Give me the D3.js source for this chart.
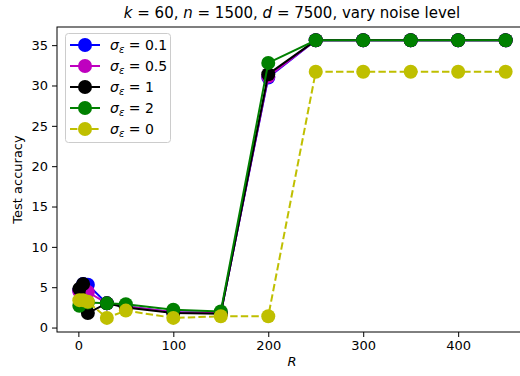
<!DOCTYPE html>
<html>
<head>
<meta charset="utf-8">
<script src="https://cdn.jsdelivr.net/npm/d3@7"></script>
<style>
  body { margin: 0; background: #fff; }
  text { font-family: "DejaVu Sans", sans-serif; }
</style>
</head>
<body>
<div id="chart"></div>
<script>
var svg_width = 520,
	svg_height = 376;

// data
var R = [1, 5, 10, 30, 50, 100, 150, 200, 250, 300, 350, 400, 450];
var acc_01 = [4.6, 5.4, 5.3, 3.0, 2.6, 1.9, 1.8, 31.0, 35.6, 35.6, 35.6, 35.6, 35.6];
var acc_05 = [4.5, 5.0, 4.4, 3.0, 2.6, 1.9, 1.8, 31.1, 35.6, 35.6, 35.6, 35.6, 35.6];
var acc_1  = [4.8, 5.4, 1.8, 3.0, 2.5, 1.8, 1.7, 31.4, 35.6, 35.6, 35.6, 35.6, 35.6];
var acc_2  = [2.7, 3.3, 3.1, 3.0, 2.9, 2.2, 2.0, 32.8, 35.6, 35.6, 35.6, 35.6, 35.6];
var acc_0  = [3.4, 3.4, 3.2, 1.2, 2.1, 1.2, 1.4, 1.4, 31.7, 31.7, 31.7, 31.7, 31.7];

var noise_labels = ["0.1", "0.5", "1", "2", "0"];
var series_colors = ["#0000ff", "#bf00bf", "#000000", "#008000", "#bfbf00"];
var series_dashed = [false, false, false, false, true];
var series_values = [acc_01, acc_05, acc_1, acc_2, acc_0];

var x_ticks = [0, 100, 200, 300, 400];
var y_ticks = [0, 5, 10, 15, 20, 25, 30, 35];

var plot_left = 57, plot_right = 527, plot_top = 27, plot_bottom = 332;

var x = d3.scaleLinear().domain([-22.5, 472.5]).range([plot_left, plot_right]);
var y = d3.scaleLinear().domain([-0.55, 37.25]).range([plot_bottom, plot_top]);

var svg = d3.select("#chart").append("svg")
		.attr("width", svg_width)
		.attr("height", svg_height);

// series
var line = d3.line()
		.x(function(d){ return x(d[0]); })
		.y(function(d){ return y(d[1]); });

series_values.forEach(function(vals, i){
	var pts = R.map(function(r, j){ return [r, vals[j]]; });
	var g = svg.append("g");
	g.append("path")
		.datum(pts)
		.attr("d", line)
		.attr("fill", "none")
		.attr("stroke", series_colors[i])
		.attr("stroke-width", 2)
		.attr("stroke-dasharray", series_dashed[i] ? "7.4,3.2" : null);
	g.selectAll("circle")
		.data(pts)
		.enter().append("circle")
		.attr("cx", function(d){ return x(d[0]); })
		.attr("cy", function(d){ return y(d[1]); })
		.attr("r", 7)
		.attr("fill", series_colors[i]);
});

// axes
var xAxis = svg.append("g")
		.attr("transform", "translate(0," + plot_bottom + ")")
		.call(d3.axisBottom(x).tickValues(x_ticks).tickSizeOuter(0).tickSize(5).tickPadding(4));
var yAxis = svg.append("g")
		.attr("transform", "translate(" + plot_left + ",0)")
		.call(d3.axisLeft(y).tickValues(y_ticks).tickSizeOuter(0).tickSize(5).tickPadding(4));

[xAxis, yAxis].forEach(function(a){
	a.select(".domain").remove();
	a.selectAll("text")
		.attr("font-size", "13px")
		.attr("font-family", "'DejaVu Sans'")
		.attr("fill", "#000");
	a.selectAll("line").attr("stroke", "#000").attr("stroke-width", 1);
});

// frame
svg.append("rect")
		.attr("x", plot_left)
		.attr("y", plot_top)
		.attr("width", plot_right - plot_left)
		.attr("height", plot_bottom - plot_top)
		.attr("fill", "none")
		.attr("stroke", "#000")
		.attr("stroke-width", 1);

// labels
svg.append("text")
		.attr("x", (plot_left + plot_right) / 2)
		.attr("y", 366)
		.attr("text-anchor", "middle")
		.attr("font-size", "13px")
		.attr("font-style", "italic")
		.text("R");

svg.append("text")
		.attr("transform", "translate(22," + ((plot_top + plot_bottom) / 2) + ") rotate(-90)")
		.attr("text-anchor", "middle")
		.attr("font-size", "13px")
		.text("Test accuracy");

var title = svg.append("text")
		.attr("x", (plot_left + plot_right) / 2)
		.attr("y", 18)
		.attr("text-anchor", "middle")
		.attr("font-size", "15px");
title.append("tspan").attr("font-style", "italic").text("k");
title.append("tspan").text(" = 60, ");
title.append("tspan").attr("font-style", "italic").text("n");
title.append("tspan").text(" = 1500, ");
title.append("tspan").attr("font-style", "italic").text("d");
title.append("tspan").text(" = 7500, vary noise level");

// legend
var legend = svg.append("g");
legend.append("rect")
		.attr("x", 65.5)
		.attr("y", 33.5)
		.attr("width", 105)
		.attr("height", 109)
		.attr("rx", 3)
		.attr("fill", "#fff")
		.attr("fill-opacity", 0.8)
		.attr("stroke", "#ccc");

noise_labels.forEach(function(lab, i){
	var ly = 45 + i * 21;
	legend.append("line")
		.attr("x1", 70).attr("x2", 100)
		.attr("y1", ly).attr("y2", ly)
		.attr("stroke", series_colors[i])
		.attr("stroke-width", 2)
		.attr("stroke-dasharray", series_dashed[i] ? "7.4,3.2" : null);
	legend.append("circle")
		.attr("cx", 85).attr("cy", ly)
		.attr("r", 7)
		.attr("fill", series_colors[i]);
	var t = legend.append("text")
		.attr("x", 110)
		.attr("y", ly + 5)
		.attr("font-size", "14px");
	t.append("tspan").attr("font-style", "italic").text("σ");
	t.append("tspan").attr("font-style", "italic").attr("font-size", "10px").attr("dy", 3).text("ε");
	t.append("tspan").attr("dy", -3).text(" = " + lab);
});
</script>
</body>
</html>
